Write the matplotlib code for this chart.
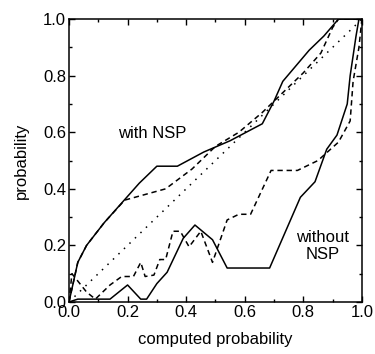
import matplotlib
matplotlib.use("Agg")
import matplotlib.pyplot as plt
from matplotlib.ticker import MultipleLocator

plt.rcParams['font.family'] = ['Liberation Sans', 'DejaVu Sans']

# with NSP, solid
with_solid_x = [0.0, 0.03, 0.06, 0.12, 0.18, 0.24, 0.30, 0.37, 0.46, 0.55, 0.66, 0.70, 0.73, 0.82, 0.87, 0.92, 1.0]
with_solid_y = [0.0, 0.14, 0.20, 0.28, 0.35, 0.42, 0.48, 0.48, 0.53, 0.57, 0.63, 0.71, 0.78, 0.89, 0.94, 1.0, 1.0]

# with NSP, dashed
with_dash_x = [0.0, 0.03, 0.06, 0.12, 0.19, 0.33, 0.42, 0.50, 0.58, 0.66, 0.71, 0.80, 0.86, 0.90, 0.92, 1.0]
with_dash_y = [0.0, 0.14, 0.20, 0.28, 0.36, 0.40, 0.47, 0.55, 0.60, 0.67, 0.72, 0.81, 0.88, 0.97, 1.0, 1.0]

# diagonal reference (dotted)
diag_x = [0.0, 1.0]
diag_y = [0.0, 1.0]

# without NSP, solid
wo_solid_x = [0.0, 0.03, 0.14, 0.20, 0.245, 0.265, 0.30, 0.335, 0.39, 0.43, 0.49, 0.54, 0.685, 0.79, 0.84, 0.88, 0.915, 0.95, 0.96, 0.98, 0.99, 1.0]
wo_solid_y = [0.0, 0.01, 0.01, 0.06, 0.01, 0.01, 0.065, 0.105, 0.225, 0.272, 0.22, 0.12, 0.12, 0.37, 0.425, 0.54, 0.59, 0.70, 0.80, 0.94, 1.0, 1.0]

# without NSP, dashed
wo_dash_x = [0.0, 0.01, 0.06, 0.09, 0.14, 0.18, 0.22, 0.245, 0.26, 0.29, 0.31, 0.33, 0.355, 0.38, 0.41, 0.45, 0.49, 0.54, 0.58, 0.62, 0.69, 0.78, 0.85, 0.92, 0.96, 0.97, 0.99, 1.0]
wo_dash_y = [0.0, 0.10, 0.035, 0.01, 0.06, 0.09, 0.09, 0.14, 0.09, 0.095, 0.15, 0.15, 0.25, 0.25, 0.195, 0.25, 0.14, 0.29, 0.31, 0.31, 0.465, 0.465, 0.50, 0.565, 0.64, 0.78, 0.90, 1.0]

xticks = [0.0, 0.2, 0.4, 0.6, 0.8, 1.0]
yticks = [0.0, 0.2, 0.4, 0.6, 0.8, 1.0]

fig = plt.figure(figsize=(3.75, 3.54), dpi=100)
ax = fig.add_axes([0.184, 0.147, 0.781, 0.799])

lw = 1.1
ax.plot(with_solid_x, with_solid_y, color='black', lw=lw, ls='-')
ax.plot(with_dash_x, with_dash_y, color='black', lw=lw, ls=(0, (3.5, 2.5)))
ax.plot(diag_x, diag_y, color='black', lw=lw, ls=(0, (1, 4)))
ax.plot(wo_solid_x, wo_solid_y, color='black', lw=lw, ls='-')
ax.plot(wo_dash_x, wo_dash_y, color='black', lw=lw, ls=(0, (3.5, 2.5)))

fs = 12
ax.text(0.167, 0.597, 'with NSP', fontsize=fs, ha='left', va='center')
ax.text(0.867, 0.198, 'without\nNSP', fontsize=fs, ha='center', va='center', linespacing=1.1)

ax.set_xlim(0, 1)
ax.set_ylim(0, 1)
ax.set_xticks(xticks)
ax.set_yticks(yticks)
ax.set_xticklabels([f'{v:.1f}' for v in xticks])
ax.set_yticklabels([f'{v:.1f}' for v in yticks])
ax.xaxis.set_minor_locator(MultipleLocator(0.1))
ax.yaxis.set_minor_locator(MultipleLocator(0.1))
ax.tick_params(which='both', direction='in', top=True, right=True, labelsize=fs, pad=2)
ax.tick_params(which='major', length=4.5, width=1)
ax.tick_params(which='minor', length=2.5, width=1)
for s in ax.spines.values():
    s.set_linewidth(1.1)

ax.set_xlabel('computed probability', fontsize=fs, labelpad=9)
ax.set_ylabel('probability', fontsize=fs, labelpad=10)

fig.savefig('out.png', dpi=100)
